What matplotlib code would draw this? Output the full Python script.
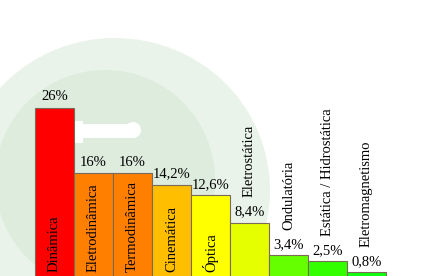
import matplotlib
matplotlib.use("Agg")
import matplotlib.pyplot as plt
import matplotlib.patches as mpatches

# données
categorias = ["Dinâmica", "Eletrodinâmica", "Termodinâmica", "Cinemática", "Óptica",
              "Eletrostática", "Ondulatória", "Estática / Hidrostática", "Eletromagnetismo"]
valores = [26, 16, 16, 14.2, 12.6, 8.4, 3.4, 2.5, 0.8]
cores = ["#ff0000", "#ff8000", "#ff8000", "#ffbf00", "#ffff00",
         "#e5ff00", "#66ff00", "#33ff00", "#11ff11"]
# rótulo dentro da barra (True) ou acima (False)
dentro = [True, True, True, True, True, False, False, False, False]

plt.rcParams["font.family"] = "serif"
plt.rcParams["font.serif"] = ["Liberation Serif", "DejaVu Serif"]

fig = plt.figure(figsize=(4.45, 2.76), dpi=100)

# fundo : marca d'água verde clara (coordenadas em pixels)
bg = fig.add_axes([0, 0, 1, 1])
bg.set_xlim(0, 445)
bg.set_ylim(276, 0)
bg.axis("off")
bg.add_patch(mpatches.Ellipse((115, 190), 310, 304, color="#e9f3e9", lw=0))
bg.add_patch(mpatches.Circle((105, 180), 110, color="#ddecdd", lw=0))
bg.plot([78, 133], [131, 131], color="white", lw=10, solid_capstyle="round")
bg.add_patch(mpatches.Circle((133, 130), 8, color="white", lw=0))
bg.add_patch(mpatches.Rectangle((72, 121), 11, 22, color="white", lw=0))

ax = fig.add_axes([0, 0, 1, 1])
ax.patch.set_alpha(0)
ax.axis("off")

x = range(len(valores))
ax.bar(x, valores, width=1.0, color=cores, edgecolor="#7a6a58", linewidth=0.8)
ax.set_xlim(-1.397, 10.013)
ax.set_ylim(0.26, 42.53)

for i, (nome, v, d) in enumerate(zip(categorias, valores, dentro)):
    txt = f"{v:g}".replace(".", ",") + "%"
    ax.text(i, v + 1.15, txt, ha="center", va="baseline", fontsize=10.5)
    if d:
        ax.text(i, 0.87, nome, rotation=90, ha="center", va="bottom", fontsize=10.5)
    else:
        ax.text(i, v + 3.9, nome, rotation=90, ha="center", va="bottom", fontsize=10.5)

fig.savefig("out.png", dpi=100)
